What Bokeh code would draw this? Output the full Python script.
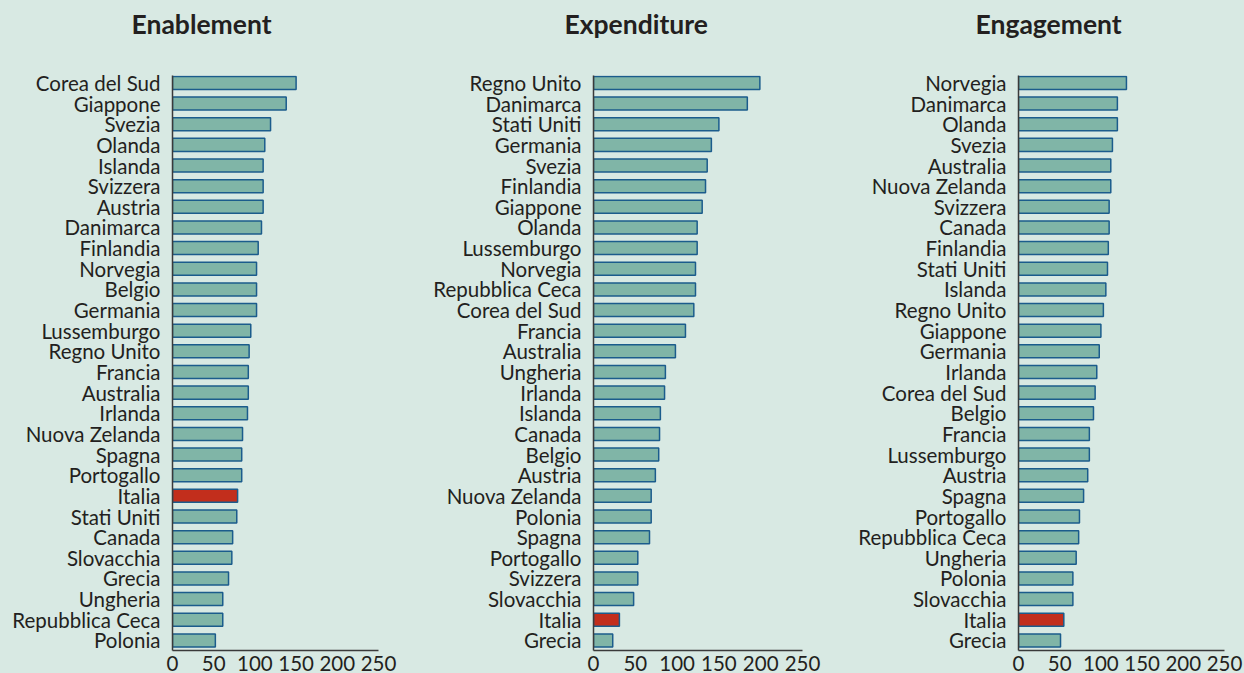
from bokeh.plotting import figure
from bokeh.layouts import row
from bokeh.models import Range1d, FixedTicker, ColumnDataSource, Title
from bokeh.embed import file_html
from bokeh.resources import INLINE

# ---------------- data ----------------
enab_countries = ["Corea del Sud", "Giappone", "Svezia", "Olanda", "Islanda", "Svizzera", "Austria",
                  "Danimarca", "Finlandia", "Norvegia", "Belgio", "Germania", "Lussemburgo", "Regno Unito",
                  "Francia", "Australia", "Irlanda", "Nuova Zelanda", "Spagna", "Portogallo", "Italia",
                  "Stati Uniti", "Canada", "Slovacchia", "Grecia", "Ungheria", "Repubblica Ceca", "Polonia"]
enab_values = [150, 138, 119, 112, 110, 110, 110, 108, 104, 102, 102, 102, 95, 93,
               92, 92, 91, 85, 84, 84, 79, 78, 73, 72, 68, 61, 61, 52]

expe_countries = ["Regno Unito", "Danimarca", "Stati Uniti", "Germania", "Svezia", "Finlandia", "Giappone",
                  "Olanda", "Lussemburgo", "Norvegia", "Repubblica Ceca", "Corea del Sud", "Francia",
                  "Australia", "Ungheria", "Irlanda", "Islanda", "Canada", "Belgio", "Austria",
                  "Nuova Zelanda", "Polonia", "Spagna", "Portogallo", "Svizzera", "Slovacchia", "Italia", "Grecia"]
expe_values = [199, 184, 150, 141, 136, 134, 130, 124, 124, 122, 122, 120, 110,
               98, 86, 85, 80, 79, 78, 74, 69, 69, 67, 53, 53, 48, 31, 23]

enga_countries = ["Norvegia", "Danimarca", "Olanda", "Svezia", "Australia", "Nuova Zelanda", "Svizzera",
                  "Canada", "Finlandia", "Stati Uniti", "Islanda", "Regno Unito", "Giappone", "Germania",
                  "Irlanda", "Corea del Sud", "Belgio", "Francia", "Lussemburgo", "Austria", "Spagna",
                  "Portogallo", "Repubblica Ceca", "Ungheria", "Polonia", "Slovacchia", "Italia", "Grecia"]
enga_values = [131, 120, 120, 114, 112, 112, 110, 110, 109, 108, 106, 103, 100, 98,
               95, 93, 91, 86, 86, 84, 79, 74, 73, 70, 66, 66, 55, 51]

titles = ["Enablement", "Expenditure", "Engagement"]
x_ticks = [0, 50, 100, 150, 200, 250]

# ---------------- style ----------------
BG = "#d8e9e3"
BAR = "#80b5a7"
BAR_LINE = "#1b5c8c"
HIGHLIGHT = "#c22e1c"
TXT = "#231f20"
FONT = "Lato"
H = 673

# (width, border_left, border_right, title offset from frame left)
geoms = [(420, 172, 42, -41), (420, 173, 38, -29), (404, 178, 20, -43)]


def make_panel(title, countries, values, geom):
    w, bl, br, toff = geom
    n = len(countries)
    p = figure(width=w, height=H, output_backend="svg", toolbar_location=None,
               x_range=Range1d(0, 250), y_range=Range1d(n - 1 + 0.49, -0.36),
               min_border_left=bl, min_border_right=br, min_border_top=10, min_border_bottom=10,
               background_fill_color=BG, border_fill_color=BG, outline_line_color=None)
    p.title.text = title
    p.title.align = "left"
    p.title.offset = toff
    p.title.standoff = 15
    p.title.vertical_align = "top"
    p.title.text_font = FONT
    p.title.text_font_style = "bold"
    p.title.text_font_size = "26.5px"
    p.title.text_color = TXT

    # spacer between title and plot area
    p.add_layout(Title(text=" ", text_font_size="10px", standoff=13,
                       text_color=BG, background_fill_color=None), "above")

    colors = [HIGHLIGHT if c == "Italia" else BAR for c in countries]
    src = ColumnDataSource(dict(y=list(range(n)), right=values, color=colors))
    p.hbar(y="y", left=0, right="right", height=0.63, source=src,
           fill_color="color", line_color=BAR_LINE, line_width=1.5)

    p.grid.visible = False
    ya = p.yaxis[0]
    ya.ticker = FixedTicker(ticks=list(range(n)))
    ya.major_label_overrides = {i: c for i, c in enumerate(countries)}
    ya.major_tick_line_color = None
    ya.major_tick_out = 0
    ya.major_tick_in = 0
    ya.minor_tick_line_color = None
    ya.axis_line_color = "#3a3a3a"
    ya.axis_line_width = 1.5
    ya.major_label_standoff = 12
    ya.major_label_text_font = FONT
    ya.major_label_text_font_size = "20.5px"
    ya.major_label_text_color = TXT

    xa = p.xaxis[0]
    xa.ticker = FixedTicker(ticks=x_ticks)
    xa.major_tick_line_color = None
    xa.major_tick_out = 0
    xa.major_tick_in = 0
    xa.minor_tick_line_color = None
    xa.axis_line_color = "#3a3a3a"
    xa.axis_line_width = 1.5
    xa.major_label_standoff = 5
    xa.major_label_text_font = FONT
    xa.major_label_text_font_size = "20.5px"
    xa.major_label_text_color = TXT
    return p


panels = [make_panel(t, c, v, g) for t, c, v, g in zip(
    titles, [enab_countries, expe_countries, enga_countries],
    [enab_values, expe_values, enga_values], geoms)]

layout = row(*panels, spacing=0)
html = file_html(layout, INLINE)
html = html.replace("<head>", "<head><style>html, body {background: #d8e9e3;}</style>", 1)
open("out.html", "w").write(html)
